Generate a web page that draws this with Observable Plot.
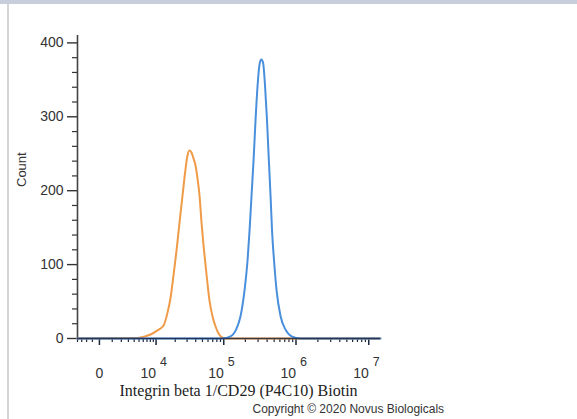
<!DOCTYPE html>
<html>
<head>
<meta charset="utf-8">
<script src="https://cdn.jsdelivr.net/npm/d3@7"></script>
<script src="https://cdn.jsdelivr.net/npm/@observablehq/plot@0.6"></script>
<style>
  html, body { margin: 0; padding: 0; background: #fff; }
  #wrap { position: relative; width: 577px; height: 419px; overflow: hidden; background: #fff; }
  #topbar { position: absolute; left: 0; top: 0; width: 577px; height: 4px; background: #c9cedb; }
  #leftline { position: absolute; left: 7px; top: 4px; width: 2px; height: 415px; background: #d4d4d4; }
  #chart { position: absolute; left: 0; top: 0; }
</style>
</head>
<body>
<div id="wrap">
  <div id="chart"></div>
  <div id="topbar"></div>
  <div id="leftline"></div>
</div>
<script>
// ---- data ----
const xDomain = [-2000, 14500000];
const yDomain = [0, 410];

const orangeX = [-2000, 4670, 6600, 8070, 10560, 13200, 15240, 17000, 18800, 20900, 23200, 25700, 28500, 30400, 32600, 34800, 37200, 39800, 42500, 45400, 48500, 51800, 55400, 59000, 63000, 69600, 76700, 84500, 93100, 109400, 14500000];
const orangeCount = [0, 0.7, 3, 5.4, 11, 17.6, 35, 55.5, 85, 119, 157, 193.5, 230, 247.6, 254.4, 251.7, 243.6, 234, 216.5, 193.5, 157, 126, 99, 74.4, 51.4, 29.8, 16.2, 6.8, 2, 0, 0];

const blueX = [-2000, 96200, 124400, 150800, 171400, 194800, 214400, 228600, 243600, 259800, 276600, 295200, 314200, 332000, 351400, 374400, 398800, 422600, 445800, 467800, 498400, 540000, 613200, 717600, 869000, 1154000, 14500000];
const blueCount = [0, 0, 3, 13.5, 30, 65, 105.5, 146, 193.5, 241, 295, 342, 371, 377.5, 373.5, 342, 295, 241, 193.5, 146, 105.5, 65, 30, 12, 3, 0, 0];

const xMajorTicks = [0, 1e4, 1e5, 1e6, 1e7];
const xTickBase = ["0", "10", "10", "10", "10"];
const xTickExp = ["", "4", "5", "6", "7"];
const xMinorTicks = [-2000, -1500, -1000, -500,
  1000, 2000, 3000, 4000, 5000, 6000, 7000, 8000, 9000,
  20000, 30000, 40000, 50000, 60000, 70000, 80000, 90000,
  200000, 300000, 400000, 500000, 600000, 700000, 800000, 900000,
  2e6, 3e6, 4e6, 5e6, 6e6, 7e6, 8e6, 9e6];

const yMajorTicks = [0, 100, 200, 300, 400];
const yMinorTicks = [20, 40, 60, 80, 120, 140, 160, 180, 220, 240, 260, 280, 320, 340, 360, 380];

const xTitle = "Integrin beta 1/CD29 (P4C10) Biotin";
const yTitle = "Count";
const credit = "Copyright \u00A9 2020 Novus Biologicals";

const orangeColor = "#ef9b48";
const blueColor = "#4a8fdc";

// ---- tables ----
const orange = orangeX.map((x, i) => ({x, count: orangeCount[i]}));
const blue = blueX.map((x, i) => ({x, count: blueCount[i]}));
const majors = xMajorTicks.map((v, i) => ({v, base: xTickBase[i], exp: xTickExp[i]}));
const zeroLabel = majors.filter(d => d.exp === "");
const powerLabels = majors.filter(d => d.exp !== "");

const plot = Plot.plot({
  width: 577,
  height: 419,
  marginLeft: 77,
  marginRight: 197,
  marginTop: 35,
  marginBottom: 81,
  style: {fontFamily: "'Liberation Sans', Arial, sans-serif", fontSize: "14px", color: "#222", background: "transparent"},
  x: {type: "symlog", constant: 2000, domain: xDomain},
  y: {domain: yDomain},
  marks: [
    // minor / major ticks
    Plot.axisY({ticks: yMinorTicks, tickSize: 5, tickFormat: () => "", label: null, stroke: "#333", strokeWidth: 1.2}),
    Plot.axisY({ticks: yMajorTicks, tickSize: 10, tickPadding: 4, label: null, stroke: "#333", strokeWidth: 1.4, fontSize: 14, fill: "#333"}),
    Plot.axisX({ticks: xMinorTicks, tickSize: 4, tickFormat: () => "", label: null, stroke: "#1c2740", strokeWidth: 1.2}),
    Plot.axisX({ticks: xMajorTicks, tickSize: 7, tickFormat: () => "", label: null, stroke: "#1c2740", strokeWidth: 1.5}),
    // tick labels (base and exponent)
    Plot.text(zeroLabel, {x: "v", text: "base", frameAnchor: "bottom", dy: 39, fontSize: 14, fill: "#333"}),
    Plot.text(powerLabels, {x: "v", text: "base", frameAnchor: "bottom", dy: 39, dx: 0, textAnchor: "end", fontSize: 14, fill: "#333"}),
    Plot.text(powerLabels, {x: "v", text: "exp", frameAnchor: "bottom", dy: 27, dx: 4, textAnchor: "start", fontSize: 12.5, fill: "#333"}),
    // axis lines
    Plot.ruleX([xDomain[0]], {y1: 0, y2: yDomain[1], stroke: "#444", strokeWidth: 1.6}),
    // curves
    Plot.line(orange, {x: "x", y: "count", stroke: orangeColor, strokeWidth: 2, curve: "monotone-x"}),
    Plot.line(blue, {x: "x", y: "count", stroke: blueColor, strokeWidth: 2, curve: "monotone-x"}),
    Plot.ruleY([0], {x1: xDomain[0], x2: xDomain[1], stroke: "#1c2740", strokeWidth: 1.4, strokeOpacity: 0.85}),
    // titles
    Plot.text([yTitle], {frameAnchor: "left", dx: -56, rotate: -90, fontSize: 13, fill: "#333"}),
    Plot.text([xTitle], {frameAnchor: "bottom", dx: 9.5, dy: 57, fontSize: 16, fontFamily: "'Liberation Serif', 'Times New Roman', serif", fill: "#222"}),
    Plot.text([credit], {frameAnchor: "bottom-left", dx: 175, dy: 74, textAnchor: "start", fontSize: 12, fill: "#333"})
  ]
});
document.getElementById("chart").appendChild(plot);
</script>
</body>
</html>
